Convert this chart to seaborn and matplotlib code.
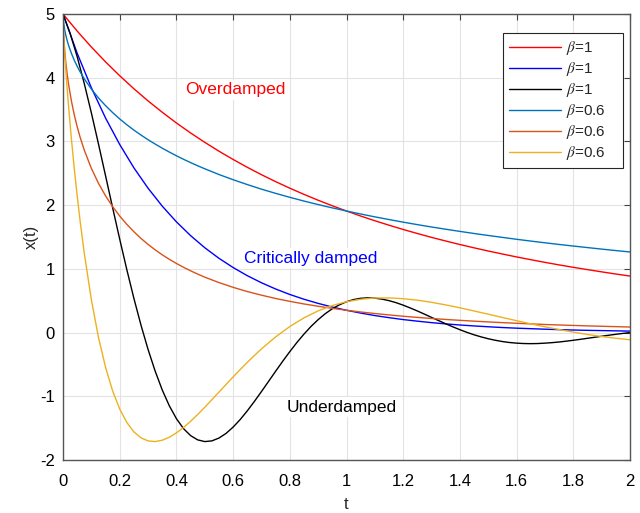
"""
Damped oscillator responses x(t) for beta = 1 and beta = 0.6.
Values read off the reference figure.
"""

import matplotlib
matplotlib.use("Agg")
import matplotlib.pyplot as plt
import seaborn as sns

# ================== DATA ==================
# time samples for the beta = 1 over/critically damped curves
T_COARSE = [0, 0.05, 0.1, 0.15, 0.2, 0.25, 0.3, 0.35, 0.4, 0.45, 0.5, 0.55, 0.6, 0.65,
            0.7, 0.75, 0.8, 0.85, 0.9, 0.95, 1.0, 1.05, 1.1, 1.15, 1.2, 1.25, 1.3, 1.35,
            1.4, 1.45, 1.5, 1.55, 1.6, 1.65, 1.7, 1.75, 1.8, 1.85, 1.9, 1.95, 2.0]

# time samples for the beta = 1 underdamped curve
T_FINE = [0, 0.025, 0.05, 0.075, 0.1, 0.125, 0.15, 0.175, 0.2, 0.225, 0.25, 0.275, 0.3,
          0.325, 0.35, 0.375, 0.4, 0.425, 0.45, 0.475, 0.5, 0.525, 0.55, 0.575, 0.6,
          0.625, 0.65, 0.675, 0.7, 0.725, 0.75, 0.775, 0.8, 0.825, 0.85, 0.875, 0.9,
          0.925, 0.95, 0.975, 1.0, 1.025, 1.05, 1.075, 1.1, 1.125, 1.15, 1.175, 1.2,
          1.225, 1.25, 1.275, 1.3, 1.325, 1.35, 1.375, 1.4, 1.425, 1.45, 1.475, 1.5,
          1.525, 1.55, 1.575, 1.6, 1.625, 1.65, 1.675, 1.7, 1.725, 1.75, 1.775, 1.8,
          1.825, 1.85, 1.875, 1.9, 1.925, 1.95, 1.975, 2.0]

# time samples for the beta = 0.6 curves (steep start, so dense near 0)
T_FRAC = [0, 0.001, 0.003, 0.006, 0.01, 0.015, 0.02, 0.03, 0.04, 0.05, 0.06, 0.075,
          0.1, 0.125, 0.15, 0.175, 0.2, 0.225, 0.25, 0.275, 0.3, 0.325, 0.35, 0.375,
          0.4, 0.425, 0.45, 0.475, 0.5, 0.55, 0.6, 0.65, 0.7, 0.75, 0.8, 0.85, 0.9,
          0.95, 1.0, 1.05, 1.1, 1.15, 1.2, 1.25, 1.3, 1.35, 1.4, 1.45, 1.5, 1.55, 1.6,
          1.65, 1.7, 1.75, 1.8, 1.85, 1.9, 1.95, 2.0]

OVER_B1 = [5.000, 4.732, 4.482, 4.249, 4.031, 3.827, 3.636, 3.458, 3.290, 3.133,
           2.986, 2.847, 2.717, 2.594, 2.478, 2.369, 2.266, 2.169, 2.077, 1.990,
           1.908, 1.829, 1.755, 1.685, 1.618, 1.555, 1.494, 1.437, 1.382, 1.330,
           1.280, 1.233, 1.187, 1.144, 1.102, 1.062, 1.024, 0.988, 0.953, 0.919,
           0.887]

CRIT_B1 = [5.000, 4.384, 3.843, 3.368, 2.952, 2.586, 2.266, 1.985, 1.738, 1.522,
           1.332, 1.166, 1.021, 0.893, 0.782, 0.684, 0.598, 0.523, 0.458, 0.400,
           0.350, 0.306, 0.267, 0.234, 0.204, 0.179, 0.156, 0.136, 0.119, 0.104,
           0.091, 0.079, 0.069, 0.061, 0.053, 0.046, 0.040, 0.035, 0.031, 0.027,
           0.023]

UNDER_B1 = [5.000, 4.698, 4.330, 3.909, 3.449, 2.963, 2.463, 1.961, 1.467, 0.990,
            0.538, 0.118, -0.264, -0.604, -0.900, -1.149, -1.351, -1.507, -1.617, -1.684,
            -1.711, -1.700, -1.656, -1.583, -1.484, -1.365, -1.229, -1.081, -0.926, -0.767,
            -0.607, -0.450, -0.299, -0.156, -0.024, 0.097, 0.203, 0.296, 0.374, 0.436,
            0.484, 0.518, 0.538, 0.545, 0.540, 0.525, 0.501, 0.469, 0.430, 0.386,
            0.339, 0.289, 0.238, 0.188, 0.138, 0.090, 0.045, 0.003, -0.035, -0.068,
            -0.097, -0.121, -0.141, -0.156, -0.166, -0.172, -0.174, -0.172, -0.166, -0.158,
            -0.148, -0.135, -0.121, -0.106, -0.090, -0.074, -0.058, -0.042, -0.027, -0.013,
            0.000]

OVER_B06 = [5.000, 4.913, 4.834, 4.750, 4.665, 4.578, 4.503, 4.378, 4.272, 4.179,
            4.095, 3.983, 3.822, 3.684, 3.562, 3.453, 3.353, 3.262, 3.178, 3.100,
            3.027, 2.959, 2.894, 2.833, 2.775, 2.720, 2.668, 2.618, 2.571, 2.481,
            2.399, 2.323, 2.251, 2.185, 2.123, 2.064, 2.009, 1.957, 1.908, 1.861,
            1.816, 1.774, 1.733, 1.694, 1.657, 1.622, 1.588, 1.555, 1.524, 1.494,
            1.464, 1.436, 1.409, 1.383, 1.358, 1.334, 1.310, 1.287, 1.265]

CRIT_B06 = [5.000, 4.796, 4.613, 4.425, 4.235, 4.046, 3.888, 3.627, 3.413, 3.231,
            3.072, 2.864, 2.578, 2.344, 2.147, 1.977, 1.829, 1.699, 1.583, 1.478,
            1.384, 1.299, 1.221, 1.150, 1.085, 1.025, 0.970, 0.918, 0.870, 0.785,
            0.710, 0.644, 0.587, 0.535, 0.490, 0.449, 0.413, 0.380, 0.350, 0.323,
            0.299, 0.277, 0.256, 0.238, 0.221, 0.206, 0.192, 0.179, 0.167, 0.156,
            0.146, 0.136, 0.127, 0.119, 0.112, 0.105, 0.099, 0.093, 0.087]

UNDER_B06 = [5.000, 4.817, 4.621, 4.386, 4.116, 3.812, 3.532, 3.023, 2.565, 2.147,
             1.764, 1.247, 0.517, -0.073, -0.544, -0.915, -1.200, -1.410, -1.558, -1.652,
             -1.700, -1.711, -1.690, -1.643, -1.575, -1.491, -1.393, -1.286, -1.173, -0.935,
             -0.696, -0.467, -0.256, -0.068, 0.095, 0.231, 0.341, 0.424, 0.484, 0.523,
             0.542, 0.544, 0.532, 0.508, 0.475, 0.434, 0.389, 0.339, 0.288, 0.237,
             0.186, 0.137, 0.090, 0.047, 0.007, -0.030, -0.062, -0.089, -0.113]

X_TICKS = [0, 0.2, 0.4, 0.6, 0.8, 1, 1.2, 1.4, 1.6, 1.8, 2]
X_TICK_LABELS = ["0", "0.2", "0.4", "0.6", "0.8", "1", "1.2", "1.4", "1.6", "1.8", "2"]
Y_TICKS = [-2, -1, 0, 1, 2, 3, 4, 5]

# (label, colour, time samples, values)
SERIES = [
    (r"$\beta$=1", "#FF0000", T_COARSE, OVER_B1),
    (r"$\beta$=1", "#0000FF", T_COARSE, CRIT_B1),
    (r"$\beta$=1", "#000000", T_FINE, UNDER_B1),
    (r"$\beta$=0.6", "#0072BD", T_FRAC, OVER_B06),
    (r"$\beta$=0.6", "#D95319", T_FRAC, CRIT_B06),
    (r"$\beta$=0.6", "#EDB120", T_FRAC, UNDER_B06),
]

# ================== STYLE ==================
sns.set_style("whitegrid")
plt.rcParams["font.family"] = ["Liberation Sans", "DejaVu Sans"]
plt.rcParams["mathtext.fontset"] = "stix"
plt.rcParams["axes.unicode_minus"] = False

# ================== PLOT ==================
fig = plt.figure(figsize=(6.4, 5.13), dpi=100)
ax = fig.add_axes([63 / 640, 1 - 460 / 513, 567 / 640, 446 / 513])

for label, colour, tt, xx in SERIES:
    sns.lineplot(x=tt, y=xx, color=colour, lw=1.0, label=label, ax=ax)

ax.set_xlim(0, 2)
ax.set_ylim(-2, 5)
ax.set_xticks(X_TICKS)
ax.set_xticklabels(X_TICK_LABELS)
ax.set_yticks(Y_TICKS)
ax.grid(True, color="#e3e3e3", lw=0.8)
ax.set_axisbelow(True)
for sp in ax.spines.values():
    sp.set_color("#555555")
    sp.set_linewidth(1.0)
ax.tick_params(direction="in", length=4, top=True, right=True, color="#444444",
               labelsize=12, labelcolor="black")
ax.tick_params(axis="x", pad=10)
ax.tick_params(axis="y", pad=6)
ax.set_xlabel("t", fontsize=12, labelpad=6)
ax.set_ylabel("x(t)", fontsize=12, labelpad=1)

box = dict(facecolor="white", edgecolor="none", pad=2)
ax.text(0.432, 3.81, "Overdamped", color="#FF0000", fontsize=12.5, va="center", bbox=box)
ax.text(0.64, 1.17, "Critically damped", color="#0000FF", fontsize=12.5, va="center", bbox=box)
ax.text(0.79, -1.17, "Underdamped", color="black", fontsize=12.5, va="center", bbox=box)

leg = ax.legend(loc="upper left", bbox_to_anchor=(0.776, 0.6614, 0.2116, 0.296),
                mode="expand", borderaxespad=0,
                fontsize=11, frameon=True, fancybox=False, framealpha=1,
                edgecolor="#262626", handlelength=3.4, handletextpad=0.35,
                labelspacing=0.2, borderpad=0.4)
leg.get_frame().set_linewidth(0.8)

fig.savefig("out.png", dpi=100)
